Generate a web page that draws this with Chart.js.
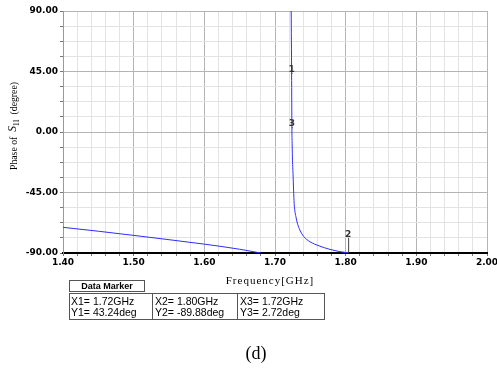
<!DOCTYPE html>
<html>
<head>
<meta charset="utf-8">
<script src="https://cdn.jsdelivr.net/npm/chart.js@4.4.1/dist/chart.umd.min.js"></script>
<style>
  html, body { margin: 0; padding: 0; background: #fff; }
  canvas { display: block; }
</style>
</head>
<body>
<canvas id="phaseChart" width="497" height="369"></canvas>
<script>
// phase of S11 below the wrap point (GHz / degree)
const freqLow = [1.40, 1.45, 1.50, 1.55, 1.60, 1.65, 1.68];
const phaseLow = [-70.9, -73.8, -76.9, -80.1, -83.4, -87.2, -90.0];

// branch after the wrap, resonance near 1.72 GHz
const freqHigh = [1.7229, 1.7235, 1.7239, 1.7243, 1.7247, 1.7255, 1.7263, 1.7271, 1.7281,
  1.7296, 1.7316, 1.7342, 1.7375, 1.7409, 1.7450, 1.7494, 1.7560, 1.7635, 1.7700,
  1.7777, 1.7850, 1.7918, 1.8035];
const phaseHigh = [90.0, 43.24, 2.72, -9.7, -20.9, -31.0, -43.2, -53.1, -58.6,
  -63.0, -67.8, -71.7, -75.3, -77.9, -80.0, -81.6, -83.4, -84.9, -86.1,
  -87.3, -88.2, -89.0, -89.88];

// data markers
const markerNames = ['1', '2', '3'];
const markerFreq = [1.7235, 1.8035, 1.7239];
const markerPhase = [43.24, -89.88, 2.72];

const xTickLabels = ['1.40', '1.50', '1.60', '1.70', '1.80', '1.90', '2.00'];
const yTickLabels = ['-90.00', '-45.00', '0.00', '45.00', '90.00'];

function toPoints(xs, ys) {
    return xs.map((x, i) => ({ x: x, y: ys[i] }));
}

function labelFor(v, list) {
    const hit = list.find(l => Math.abs(parseFloat(l) - v) < 1e-6);
    return hit === undefined ? '' : hit;
}

const majorGrid = '#b4b4b4';
const minorGrid = '#e3e3e3';

function gridColor(list) {
    return c => (c.tick && labelFor(c.tick.value, list) !== '') ? majorGrid : minorGrid;
}

const markerPlugin = {
    id: 'markers',
    afterDatasetsDraw(chart) {
        const { ctx, chartArea } = chart;
        const x = chart.scales.x, y = chart.scales.y;
        ctx.save();
        ctx.fillStyle = '#333';
        ctx.strokeStyle = '#444';
        ctx.lineWidth = 1;
        ctx.font = 'bold 9px "DejaVu Sans"';
        ctx.textAlign = 'center';
        ctx.textBaseline = 'bottom';
        markerNames.forEach((name, i) => {
            const px = x.getPixelForValue(markerFreq[i]);
            const py = y.getPixelForValue(markerPhase[i]);
            const lift = py > chartArea.bottom - 12 ? 15 : 1;
            ctx.beginPath();
            ctx.moveTo(px + 0.5, py);
            ctx.lineTo(px + 0.5, py - lift);
            ctx.stroke();
            ctx.fillText(name, px, py - lift + 1);
        });
        ctx.restore();
    }
};

const framePlugin = {
    id: 'frame',
    afterDraw(chart) {
        const ctx = chart.ctx;
        ctx.save();
        ctx.fillStyle = '#000';

        // y axis title: Phase of S11 (degree), squeezed a little like a condensed serif
        ctx.save();
        ctx.translate(14, 126);
        ctx.rotate(-Math.PI / 2);
        ctx.textBaseline = 'middle';
        const parts = [
            { t: 'Phase of  ', f: '11px "Liberation Serif"', dy: 0 },
            { t: 'S', f: 'italic 13px "Liberation Serif"', dy: -1 },
            { t: '11', f: '8px "Liberation Serif"', dy: 3 },
            { t: '  (degree)', f: '11px "Liberation Serif"', dy: 0 }
        ];
        let total = 0;
        parts.forEach(p => { ctx.font = p.f; p.w = ctx.measureText(p.t).width; total += p.w; });
        const squeeze = Math.min(1, 88 / total);
        ctx.scale(squeeze, 1);
        let cx = -total / 2;
        ctx.textAlign = 'left';
        parts.forEach(p => { ctx.font = p.f; ctx.fillText(p.t, cx, p.dy); cx += p.w; });
        ctx.restore();

        // x axis title
        ctx.font = '11px "Liberation Serif"';
        ctx.letterSpacing = '1px';
        ctx.textAlign = 'center';
        ctx.textBaseline = 'middle';
        ctx.fillText('Frequency[GHz]', 270, 281);
        ctx.letterSpacing = '0px';

        // data marker table
        ctx.strokeStyle = '#555';
        ctx.lineWidth = 1;
        ctx.strokeRect(69.5, 280.5, 75, 11);
        ctx.font = 'bold 9px "Liberation Sans"';
        ctx.fillText('Data Marker', 107, 286.5);

        ctx.strokeRect(69.5, 293.5, 255, 26);
        ctx.beginPath();
        ctx.moveTo(152.5, 293.5); ctx.lineTo(152.5, 319.5);
        ctx.moveTo(237.5, 293.5); ctx.lineTo(237.5, 319.5);
        ctx.stroke();

        ctx.font = '10.5px "Liberation Sans"';
        ctx.textAlign = 'left';
        const colX = [71, 155, 240];
        markerNames.forEach((name, i) => {
            ctx.fillText('X' + name + '= ' + markerFreq[i].toFixed(2) + 'GHz', colX[i], 302.5);
            ctx.fillText('Y' + name + '= ' + markerPhase[i].toFixed(2) + 'deg', colX[i], 313.5);
        });

        // caption
        ctx.font = '18px "Liberation Serif"';
        ctx.textAlign = 'center';
        ctx.fillText('(d)', 256, 354);
        ctx.restore();
    }
};

const lineStyle = {
    showLine: true,
    borderColor: '#2e2eff',
    backgroundColor: '#2e2eff',
    borderWidth: 1,
    pointRadius: 0,
    cubicInterpolationMode: 'monotone'
};

const tickFont = { family: 'DejaVu Sans', size: 9, weight: 'bold' };

new Chart(document.getElementById('phaseChart'), {
    type: 'scatter',
    data: {
        datasets: [
            Object.assign({ data: toPoints(freqLow, phaseLow) }, lineStyle),
            Object.assign({ data: toPoints(freqHigh, phaseHigh) }, lineStyle)
        ]
    },
    options: {
        responsive: false,
        animation: false,
        devicePixelRatio: 1,
        layout: { padding: { top: 11, right: 10, left: 0, bottom: 0 } },
        plugins: {
            legend: { display: false },
            tooltip: { enabled: false }
        },
        scales: {
            x: {
                type: 'linear',
                min: 1.4,
                max: 2.0,
                ticks: {
                    stepSize: 0.02,
                    autoSkip: false,
                    maxRotation: 0,
                    padding: 1,
                    color: '#000',
                    font: tickFont,
                    callback: v => labelFor(v, xTickLabels)
                },
                grid: { color: gridColor(xTickLabels), tickColor: '#777', tickLength: 3 },
                border: { color: '#000', width: 2 },
                afterFit: s => { s.height = 116; s.paddingLeft = 0; s.paddingRight = 0; }
            },
            y: {
                type: 'linear',
                min: -90,
                max: 90,
                ticks: {
                    stepSize: 11.25,
                    autoSkip: false,
                    padding: 2,
                    color: '#000',
                    font: tickFont,
                    callback: v => labelFor(v, yTickLabels)
                },
                grid: { color: gridColor(yTickLabels), tickColor: '#777', tickLength: 3 },
                border: { color: '#999', width: 1 },
                afterFit: s => { s.width = 63; s.paddingTop = 0; s.paddingBottom = 0; }
            }
        }
    },
    plugins: [markerPlugin, framePlugin]
});
</script>
</body>
</html>
